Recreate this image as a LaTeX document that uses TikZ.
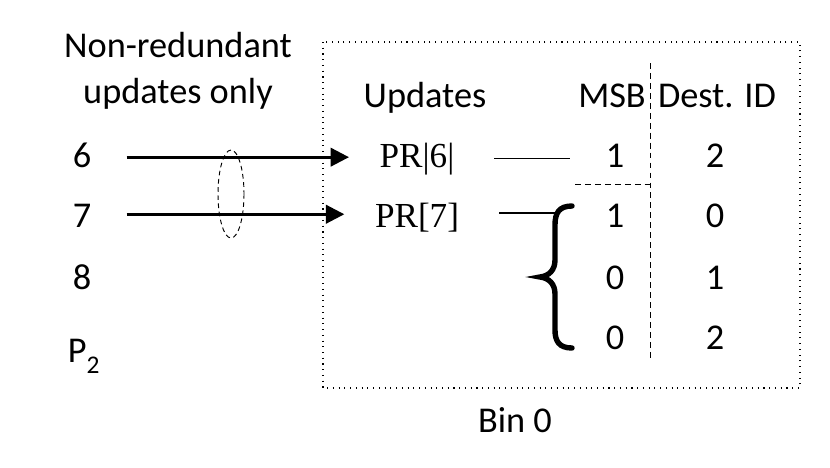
\documentclass[tikz,border=0pt]{standalone}
\usepackage{fontspec}
\setmainfont{Carlito}
\newfontfamily\prfont{Liberation Serif}
\usetikzlibrary{arrows.meta}

\begin{document}
\begin{tikzpicture}[x=0.03cm,y=-0.03cm,
  lbl/.style={font=\fontsize{31}{39}\selectfont, inner sep=2pt, anchor=base},
  prlbl/.style={font=\prfont\fontsize{30}{34}\selectfont, inner sep=2pt, anchor=base},
  updarrow/.style={-{Triangle[length=0.55cm,width=0.55cm]}, line width=2.4pt},
  link/.style={line width=1pt},
  sep/.style={dash pattern=on 5pt off 3.5pt, line width=0.8pt},
  binbox/.style={dash pattern=on 0.9pt off 4pt, line width=0.9pt}]
  \useasboundingbox (0,0) rectangle (830,467);

  % bin frame and column separators
  \draw[binbox] (323,42) rectangle (800,388);
  \draw[sep] (650,63) -- (650,360);
  \draw[sep] (575,184) -- (650,184);

  % left side
  \node[lbl] (nonred) at (178,57) {Non-redundant};
  \node[lbl] (updonly) at (178,103) {updates only};
  \node[lbl] (n6) at (82,167) {6};
  \node[lbl] (n7) at (82,227) {7};
  \node[lbl] (n8) at (82,289) {8};
  \node[lbl] (p2) at (84,362) {P\raisebox{-0.15em}{\textsubscript{2}}};

  % headers
  \node[lbl] (upd) at (425,107) {Updates};
  \node[lbl] (msb) at (612,107) {MSB};
  \node[lbl] (dest) at (717,107) {Dest. ID};

  % updates
  \node[prlbl] (pr6) at (417,167) {PR|6|};
  \node[prlbl] (pr7) at (417,227) {PR[7]};

  % table
  \node[lbl] (m1) at (615,167) {1};
  \node[lbl] (m2) at (615,227) {1};
  \node[lbl] (m3) at (615,289) {0};
  \node[lbl] (m4) at (615,349) {0};
  \node[lbl] (d1) at (715,167) {2};
  \node[lbl] (d2) at (715,227) {0};
  \node[lbl] (d3) at (715,289) {1};
  \node[lbl] (d4) at (715,349) {2};

  \node[lbl] (bin) at (515,432) {Bin 0};

  % arrows into the bin
  \draw[updarrow] ([xshift=28pt,yshift=6pt]n6.mid east) -- ([xshift=-24pt,yshift=6pt]pr6.mid west);
  \draw[updarrow] ([xshift=28pt,yshift=8.5pt]n7.mid east) -- ([xshift=-24pt,yshift=8.5pt]pr7.mid west);
  \draw[dash pattern=on 4pt off 3pt, line width=0.8pt] (231,194) ellipse [x radius=13, y radius=44];

  % links to MSB entries
  \draw[link, shorten <=32pt, shorten >=28pt] ([yshift=5pt]pr6.mid east) -- ([yshift=5pt]m1.mid west);
  \coordinate (brtop) at (556,213);
  \draw[link, shorten <=32pt] (pr7.mid east |- brtop) -- (brtop);
  \draw[line width=4.6pt, line cap=round]
    (572,206) .. controls (559,206) and (555,213) .. (555,225) -- (555,260)
    .. controls (555,270) and (549,276) .. (540,277)
    .. controls (549,278) and (555,284) .. (555,294) -- (555,330)
    .. controls (555,341) and (559,348) .. (572,348);
\end{tikzpicture}
\end{document}
